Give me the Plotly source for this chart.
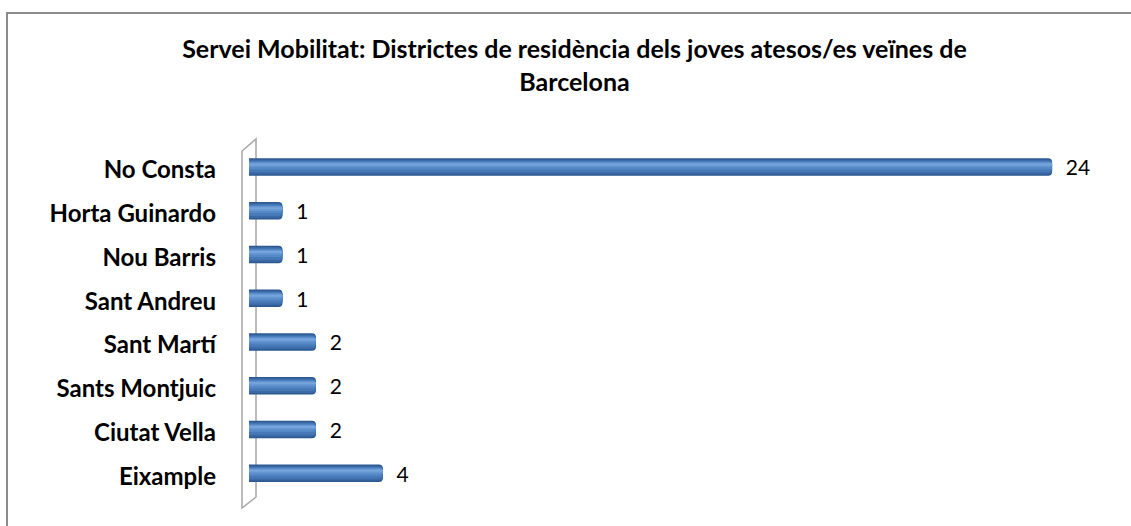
import plotly.graph_objects as go

categories = ["Eixample", "Ciutat Vella", "Sants Montjuic", "Sant Martí",
              "Sant Andreu", "Nou Barris", "Horta Guinardo", "No Consta"]
values = [4, 2, 2, 2, 1, 1, 1, 24]
title_text = "Servei Mobilitat: Districtes de residència dels joves atesos/es veïnes de<br>Barcelona"

W, H = 1131, 526
ML, MR, MT, MB = 249, 12, 145, 31
PW, PH = W - ML - MR, H - MT - MB

def px(x):
    return (x - ML) / PW

def py(y):
    return (H - MB - y) / PH

FONT = "Lato, 'Open Sans', sans-serif"

fig = go.Figure()
# cylinder-like shading: stacked bands (offset/width in category units), dark edges to light highlight
bands = [
    (-0.20, 0.40, "#2C5890"),
    (-0.17, 0.34, "#3A69A6"),
    (-0.12, 0.26, "#4779B8"),
    (-0.06, 0.18, "#5588C6"),
    (-0.01, 0.11, "#6596D2"),
    (0.03, 0.05, "#76A4DB"),
]
for i, (off, wid, col) in enumerate(bands):
    kw = {}
    if i == 0:
        kw = dict(texttemplate="  %{x}", textposition="outside",
                  textfont=dict(family=FONT, size=21, color="#000"),
                  constraintext="none", cliponaxis=False)
    fig.add_trace(go.Bar(y=categories, x=values, orientation="h",
                         offset=off, width=wid,
                         marker=dict(color=col, line=dict(width=0), cornerradius=4),
                         hoverinfo="skip", **kw))

shapes = [
    # outer chart border (top and left visible)
    dict(type="path", xref="paper", yref="paper",
         path=f"M {px(7)},{py(600)} L {px(7)},{py(13)} L {px(1200)},{py(13)}",
         line=dict(color="#8C8C8C", width=2), layer="below"),
    # 3D side wall
    dict(type="path", xref="paper", yref="paper",
         path=(f"M {px(242)},{py(508)} L {px(242)},{py(151)} L {px(256)},{py(139)} "
               f"L {px(256)},{py(497)} Z"),
         line=dict(color="#A6A6A6", width=1.5), layer="below"),
]

fig.update_layout(
    width=W, height=H,
    margin=dict(l=ML, r=MR, t=MT, b=MB),
    paper_bgcolor="white", plot_bgcolor="white",
    barmode="overlay",
    showlegend=False,
    title=dict(text=title_text, x=574.5 / W, xref="container", xanchor="center",
               y=1 - 58 / H, yref="container", yanchor="top",
               font=dict(family=FONT, size=25, color="#000", weight="bold")),
    xaxis=dict(range=[0, 26], visible=False, showgrid=False, zeroline=False),
    yaxis=dict(categoryorder="array", categoryarray=categories,
               range=[-0.5, 7.5], showgrid=False, zeroline=False, showline=False,
               ticks="", ticklabelstandoff=32, ticklabelshift=3,
               tickfont=dict(family=FONT, size=24, color="#000", weight="bold")),
    shapes=shapes,
)

fig.write_html("out.html", config={"displayModeBar": False},
               post_script="document.body.style.margin='0';")
